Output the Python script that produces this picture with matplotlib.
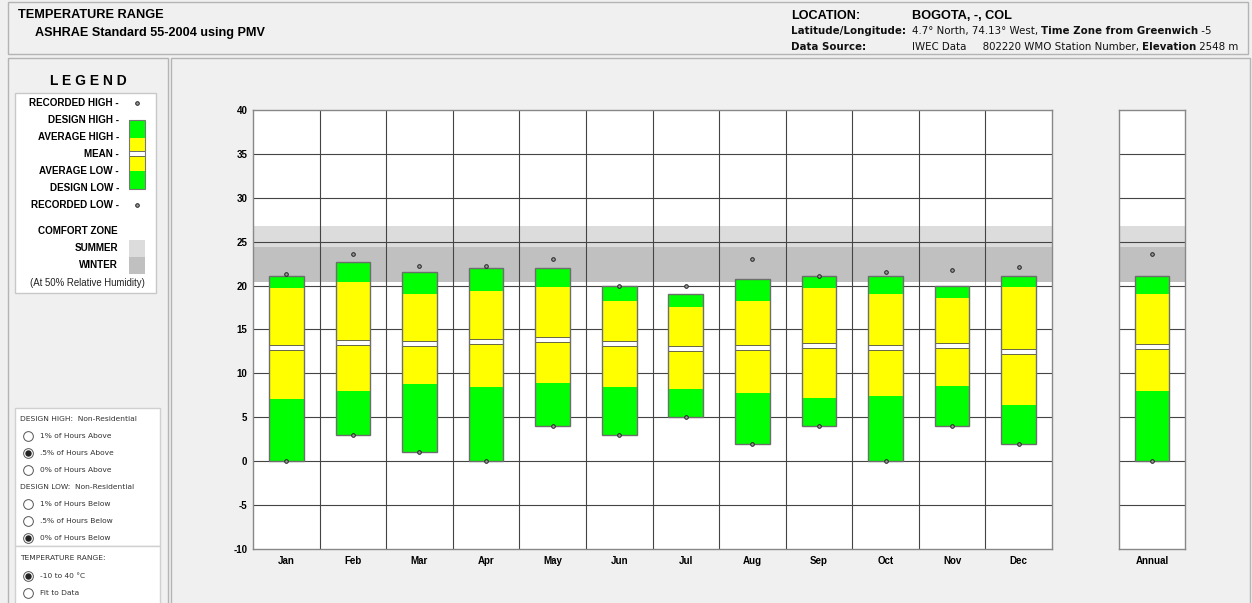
import matplotlib
matplotlib.use("Agg")
import matplotlib.pyplot as plt
from matplotlib.patches import Rectangle
import numpy as np

plt.rcParams['font.family'] = ['Liberation Sans', 'DejaVu Sans']
plt.rcParams['axes.unicode_minus'] = False

# values (deg C)
months = ['Jan', 'Feb', 'Mar', 'Apr', 'May', 'Jun', 'Jul', 'Aug', 'Sep', 'Oct', 'Nov', 'Dec']
rec_high = [21.3, 23.6, 22.2, 22.2, 23.0, 20.0, 20.0, 23.0, 21.1, 21.5, 21.8, 22.1]
design_high = [21.1, 22.7, 21.5, 22.0, 22.0, 20.0, 19.0, 20.8, 21.1, 21.1, 20.0, 21.1]
avg_high = [19.7, 20.4, 19.1, 19.4, 19.8, 18.3, 17.6, 18.2, 19.7, 19.0, 18.6, 19.8]
mean_t = [13.0, 13.5, 13.4, 13.6, 13.9, 13.4, 12.8, 12.9, 13.2, 13.0, 13.2, 12.5]
avg_low = [7.1, 8.0, 8.8, 8.5, 8.9, 8.5, 8.2, 7.8, 7.2, 7.4, 8.6, 6.4]
design_low = [0.0, 3.0, 1.0, 0.0, 4.0, 3.0, 5.0, 2.0, 4.0, 0.0, 4.0, 2.0]
rec_low = [0.0, 3.0, 1.0, 0.0, 4.0, 3.0, 5.0, 2.0, 4.0, 0.0, 4.0, 2.0]

annual = {'rec_high': 23.6, 'design_high': 21.1, 'avg_high': 19.1, 'mean': 13.05,
          'avg_low': 8.0, 'design_low': 0.0, 'rec_low': 0.0}

summer_zone = (24.4, 26.8)
winter_zone = (20.4, 24.4)
y_ticks = list(range(-10, 41, 5))

GREEN = '#00ff00'
YELLOW = '#ffff00'
SUMMER = '#dcdcdc'
WINTER = '#c0c0c0'
BG = '#f0f0f0'
GRID = '#444444'

W, H = 1252, 603
fig = plt.figure(figsize=(W / 100, H / 100), dpi=100, facecolor=BG)

# background layer in pixel coordinates
bg = fig.add_axes([0, 0, 1, 1])
bg.set_xlim(0, W)
bg.set_ylim(H, 0)
bg.axis('off')
bg.set_zorder(0)


def box(x0, y0, x1, y1, fc=BG, ec='#b4b4b4', lw=1.0):
    bg.add_patch(Rectangle((x0, y0), x1 - x0, y1 - y0, facecolor=fc, edgecolor=ec, lw=lw))


box(8, 2, 1248, 54)
box(8, 58, 168, 606)
box(171, 58, 1250, 606)
box(15, 93, 156, 293, fc='white', ec='#c8c8c8')
box(15, 408, 160, 546, fc='white', ec='#d0d0d0')
box(15, 546, 160, 606, fc='white', ec='#d0d0d0')

small = dict(fontsize=7.4, family=['DejaVu Sans'], color='#111111')


def chain(x, y, parts):
    prev = None
    for txt, weight in parts:
        if prev is None:
            prev = bg.text(x, y, txt, fontweight=weight, va='baseline', **small)
        else:
            prev = bg.annotate(txt, xy=(1, 0), xycoords=prev, fontweight=weight,
                               va='bottom', ha='left', **small)


# header
bg.text(18, 18, 'TEMPERATURE RANGE', fontsize=9.2, fontweight='bold', va='baseline')
bg.text(35, 36, 'ASHRAE Standard 55-2004 using PMV', fontsize=9.1, fontweight='bold', va='baseline')
bg.text(791, 19, 'LOCATION:', fontsize=9.1, fontweight='bold', va='baseline')
bg.text(912, 19, 'BOGOTA, -, COL', fontsize=9.2, fontweight='bold', va='baseline')
bg.text(791, 34, 'Latitude/Longitude:', fontweight='bold', va='baseline', **small)
chain(912, 34, [('4.7° North, 74.13° West, ', 'normal'), ('Time Zone from Greenwich', 'bold'),
                (' -5', 'normal')])
bg.text(791, 50, 'Data Source:', fontweight='bold', va='baseline', **small)
chain(912, 50, [('IWEC Data     802220 WMO Station Number, ', 'normal'), ('Elevation', 'bold'),
                (' 2548 m', 'normal')])

# legend panel
bg.text(88, 81, 'L E G E N D', fontsize=10, fontweight='bold', ha='center', va='center')
leg_labels = ['RECORDED HIGH -', 'DESIGN HIGH -', 'AVERAGE HIGH -', 'MEAN -',
              'AVERAGE LOW -', 'DESIGN LOW -', 'RECORDED LOW -']
for i, lab in enumerate(leg_labels):
    bg.text(119, 103 + i * 17, lab, fontsize=7.1, fontweight='bold', ha='right', va='center')
bg.plot([137, 137], [103, 205], 'o', ms=2.6, mfc='#999999', mec='#222222', mew=0.7, ls='none')
for y0, y1, c in [(120, 138, GREEN), (138, 151, YELLOW), (151, 156, 'white'),
                  (156, 171, YELLOW), (171, 189, GREEN)]:
    bg.add_patch(Rectangle((129, y0), 16, y1 - y0, facecolor=c, edgecolor='none'))
bg.add_patch(Rectangle((129, 151), 16, 5, facecolor='none', edgecolor='#555555', lw=0.6))
bg.add_patch(Rectangle((129, 120), 16, 69, facecolor='none', edgecolor='#777777', lw=0.8))
bg.text(118, 231, 'COMFORT ZONE', fontsize=7.1, fontweight='bold', ha='right', va='center')
bg.text(118, 248, 'SUMMER', fontsize=7.1, fontweight='bold', ha='right', va='center')
bg.text(118, 265, 'WINTER', fontsize=7.1, fontweight='bold', ha='right', va='center')
bg.add_patch(Rectangle((129, 240), 16, 17, facecolor=SUMMER, edgecolor='none'))
bg.add_patch(Rectangle((129, 257), 16, 17, facecolor=WINTER, edgecolor='none'))
bg.text(87, 283, '(At 50% Relative Humidity)', fontsize=6.9, ha='center', va='center', color='#222222')

# radio option panel
rfont = dict(fontsize=5.4, family=['DejaVu Sans'], va='center', color='#333333')
bg.text(20, 419, 'DESIGN HIGH:  Non-Residential', **rfont)
bg.text(20, 487, 'DESIGN LOW:  Non-Residential', **rfont)
bg.text(20, 558, 'TEMPERATURE RANGE:', **rfont)
radios = [(436, '1% of Hours Above', False), (453, '.5% of Hours Above', True),
          (470, '0% of Hours Above', False), (504, '1% of Hours Below', False),
          (521, '.5% of Hours Below', False), (538, '0% of Hours Below', True),
          (576, '-10 to 40 °C', True), (593, 'Fit to Data', False)]
for y, lab, on in radios:
    bg.plot(28, y, 'o', ms=7, mfc='white', mec='#555555', mew=0.7)
    if on:
        bg.plot(28, y, 'o', ms=3.6, mfc='#222222', mec='#222222')
    bg.text(40, y, lab, **rfont)


def px_axes(x0, x1, y0, y1):
    a = fig.add_axes([x0 / W, 1 - y1 / H, (x1 - x0) / W, (y1 - y0) / H])
    a.set_zorder(1)
    return a


def style(a, n):
    a.set_facecolor('white')
    a.set_xlim(-0.5, n - 0.5)
    a.set_ylim(-10, 40)
    a.set_yticks(y_ticks)
    a.tick_params(length=0, labelsize=7)
    for s in a.spines.values():
        s.set_color('#888888')
        s.set_linewidth(1.0)
    a.axhspan(*summer_zone, color=SUMMER, zorder=0.5, lw=0)
    a.axhspan(*winter_zone, color=WINTER, zorder=0.5, lw=0)
    a.hlines(y_ticks[1:-1], -0.5, n - 0.5, color=GRID, lw=0.8, zorder=1)
    if n > 1:
        a.vlines(np.arange(0.5, n - 0.5), -10, 40, color=GRID, lw=0.8, zorder=1)


def draw_bars(a, x, rh, dh, ah, mn, al, dl, rl):
    x = np.asarray(x, dtype=float)
    rh, dh, ah, mn, al, dl, rl = [np.asarray(v, dtype=float) for v in (rh, dh, ah, mn, al, dl, rl)]
    w = 0.52
    half = 0.28
    a.bar(x, al - dl, w, bottom=dl, color=GREEN, zorder=2, lw=0)
    a.bar(x, (mn - half) - al, w, bottom=al, color=YELLOW, zorder=2, lw=0)
    a.bar(x, ah - (mn + half), w, bottom=mn + half, color=YELLOW, zorder=2, lw=0)
    a.bar(x, dh - ah, w, bottom=ah, color=GREEN, zorder=2, lw=0)
    a.bar(x, 2 * half, w, bottom=mn - half, color='white', edgecolor='#666644', lw=0.7, zorder=3)
    a.bar(x, dh - dl, w, bottom=dl, fill=False, edgecolor='#6e6e6e', lw=1.0, zorder=4)
    a.plot(x, rh, 'o', ms=2.6, mfc='#999999', mec='#222222', mew=0.7, ls='none', zorder=5)
    a.plot(x, rl, 'o', ms=2.6, mfc='#999999', mec='#222222', mew=0.7, ls='none', zorder=5)


ax = px_axes(253, 1052, 110, 549)
style(ax, len(months))
ax.set_xticks(range(len(months)))
ax.set_xticklabels(months)
ax.tick_params(axis='x', pad=5)
ax.tick_params(axis='y', pad=4)
draw_bars(ax, range(len(months)), rec_high, design_high, avg_high, mean_t, avg_low, design_low, rec_low)
for lab in ax.get_yticklabels() + ax.get_xticklabels():
    lab.set_fontweight('bold')

ax2 = px_axes(1119, 1185, 110, 549)
style(ax2, 1)
ax2.set_yticklabels([])
ax2.set_xticks([0])
ax2.set_xticklabels(['Annual'])
ax2.tick_params(axis='x', pad=5)
draw_bars(ax2, [0], [annual['rec_high']], [annual['design_high']], [annual['avg_high']],
          [annual['mean']], [annual['avg_low']], [annual['design_low']], [annual['rec_low']])
for lab in ax2.get_xticklabels():
    lab.set_fontweight('bold')

fig.savefig('out.png', dpi=100, facecolor=BG)
